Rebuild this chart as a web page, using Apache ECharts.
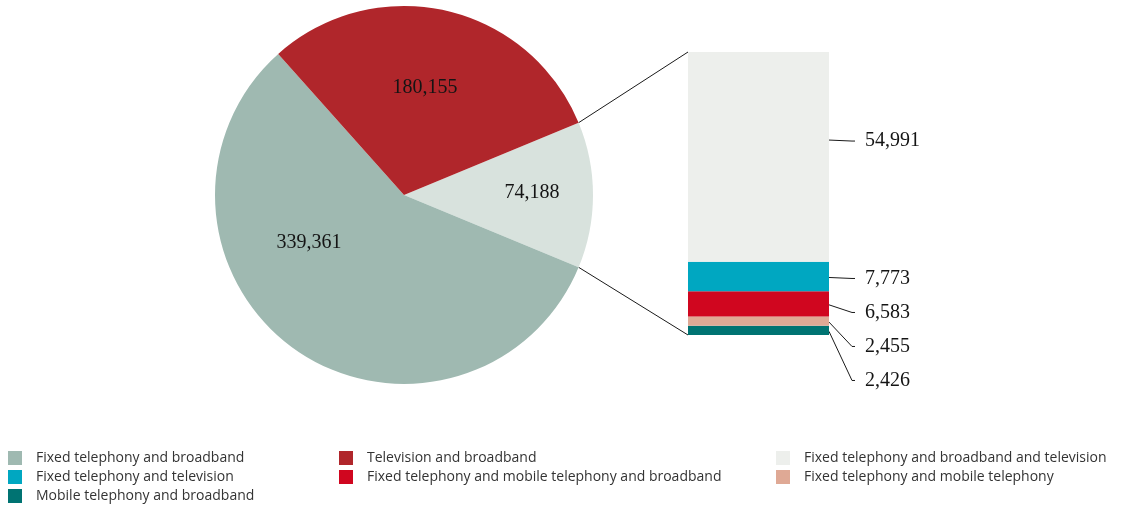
<!DOCTYPE html>
<html>
<head>
<meta charset="utf-8">
<script src="https://cdn.jsdelivr.net/npm/echarts@6/dist/echarts.min.js"></script>
<style>
  html, body { margin: 0; padding: 0; background: #ffffff; }
  #chart { width: 1129px; height: 508px; }
</style>
</head>
<body>
<div id="chart"></div>
<script>
// Customers by service bundle
const pieNames  = ['Other bundles', 'Fixed telephony and broadband', 'Television and broadband'];
const pieValues = [74188, 339361, 180155];
const pieColors = ['#d8e2dd', '#9fb9b1', '#b0262b'];

// Breakdown of the "other bundles" slice, listed bottom to top
const barNames  = [
  'Mobile telephony and broadband',
  'Fixed telephony and mobile telephony',
  'Fixed telephony and mobile telephony and broadband',
  'Fixed telephony and television',
  'Fixed telephony and broadband and television'
];
const barValues = [2426, 2455, 6583, 7773, 54991];
const barColors = ['#007372', '#dfa995', '#d0061f', '#00a7c1', '#edefec'];

const legendColumns = [
  ['Fixed telephony and broadband', 'Fixed telephony and television', 'Mobile telephony and broadband'],
  ['Television and broadband', 'Fixed telephony and mobile telephony and broadband'],
  ['Fixed telephony and broadband and television', 'Fixed telephony and mobile telephony']
];

// layout
const PIE_CENTER = [404, 195];
const PIE_RADIUS = 189;
const GRID = { left: 688, top: 52, width: 141, height: 283 };
const LEGEND_LEFT = [8, 339, 776];
// slice label offsets from the pie centre, in pie data order
const pieLabelOffset = [[128, -2], [-95, 48], [21, -107]];
const NUM_FONT = '20px "Liberation Serif", serif';

const fmt = v => v.toLocaleString('en-US');
const pieTotal = pieValues.reduce((a, b) => a + b, 0);
const barTotal = barValues.reduce((a, b) => a + b, 0);
const firstSliceAngle = pieValues[0] / pieTotal * 360;
const startAngle = firstSliceAngle / 2;

const chart = echarts.init(document.getElementById('chart'), null, { renderer: 'canvas' });

const option = {
  animation: false,
  textStyle: { fontFamily: '"Open Sans", sans-serif' },
  legend: legendColumns.map((names, i) => ({
    orient: 'vertical',
    left: LEGEND_LEFT[i],
    top: 450,
    data: names,
    selectedMode: false,
    icon: 'rect',
    itemWidth: 14,
    itemHeight: 14,
    itemGap: 3,
    padding: 0,
    textStyle: {
      fontFamily: '"Open Sans", sans-serif',
      fontSize: 14,
      lineHeight: 16,
      color: '#333333',
      padding: [0, 0, 0, 9]
    }
  })),
  grid: Object.assign({ containLabel: false }, GRID),
  xAxis: { type: 'category', data: [''], show: false },
  yAxis: { type: 'value', min: 0, max: barTotal, show: false },
  series: [
    {
      type: 'pie',
      center: PIE_CENTER,
      radius: PIE_RADIUS,
      startAngle: startAngle,
      clockwise: true,
      silent: true,
      avoidLabelOverlap: false,
      itemStyle: { borderWidth: 0 },
      label: {
        show: true,
        position: 'inside',
        formatter: p => fmt(p.value),
        color: '#141414',
        fontFamily: '"Liberation Serif", serif',
        fontSize: 20,
        align: 'center',
        verticalAlign: 'middle'
      },
      labelLine: { show: false },
      labelLayout: p => ({
        x: PIE_CENTER[0] + pieLabelOffset[p.dataIndex][0],
        y: PIE_CENTER[1] + pieLabelOffset[p.dataIndex][1],
        align: 'center',
        verticalAlign: 'middle'
      }),
      emphasis: { disabled: true },
      data: pieNames.map((n, i) => ({ name: n, value: pieValues[i], itemStyle: { color: pieColors[i] } }))
    },
    ...barNames.map((n, i) => ({
      type: 'bar',
      name: n,
      stack: 'bundle',
      barWidth: '100%',
      silent: true,
      itemStyle: { color: barColors[i] },
      emphasis: { disabled: true },
      data: [barValues[i]]
    }))
  ]
};

chart.setOption(option);

// Connectors, leader lines and value labels placed from the axis scale
const yPx = v => chart.convertToPixel({ yAxisIndex: 0 }, v);
const barLeft = GRID.left;
const barRight = GRID.left + GRID.width;
const rad = a => a * Math.PI / 180;
const piePoint = a => [PIE_CENTER[0] + PIE_RADIUS * Math.cos(rad(a)), PIE_CENTER[1] - PIE_RADIUS * Math.sin(rad(a))];
const upper = piePoint(startAngle);
const lower = piePoint(startAngle - firstSliceAngle);

const graphics = [
  { type: 'line', shape: { x1: upper[0], y1: upper[1], x2: barLeft, y2: yPx(barTotal) }, style: { stroke: '#1a1a1a', lineWidth: 1 }, silent: true },
  { type: 'line', shape: { x1: lower[0], y1: lower[1], x2: barLeft, y2: yPx(0) }, style: { stroke: '#1a1a1a', lineWidth: 1 }, silent: true }
];

// anchors on the bar's right edge, top to bottom
let cum = 0;
const segs = barValues.map(v => { const s = { lo: cum, hi: cum + v, v }; cum += v; return s; });
const order = segs.map((s, i) => i).reverse();
const LABEL_GAP = 34;
let prevY = -Infinity;
order.forEach((i, k) => {
  const s = segs[i];
  const top = yPx(s.hi), bottom = yPx(s.lo);
  const anchorY = k === 0 ? top + (bottom - top) * 0.42 : (top + bottom) / 2 + 1;
  const labelY = Math.max(anchorY + 1, prevY + LABEL_GAP);
  prevY = labelY;
  graphics.push({
    type: 'polyline',
    shape: { points: [[barRight, anchorY], [barRight + 23, labelY], [barRight + 26, labelY]] },
    style: { stroke: '#1a1a1a', lineWidth: 1, fill: null },
    silent: true
  });
  graphics.push({
    type: 'text',
    x: barRight + 36,
    y: labelY,
    style: { text: fmt(s.v), font: NUM_FONT, fill: '#141414', verticalAlign: 'middle', align: 'left' },
    silent: true
  });
});

chart.setOption({ graphic: graphics });
</script>
</body>
</html>
